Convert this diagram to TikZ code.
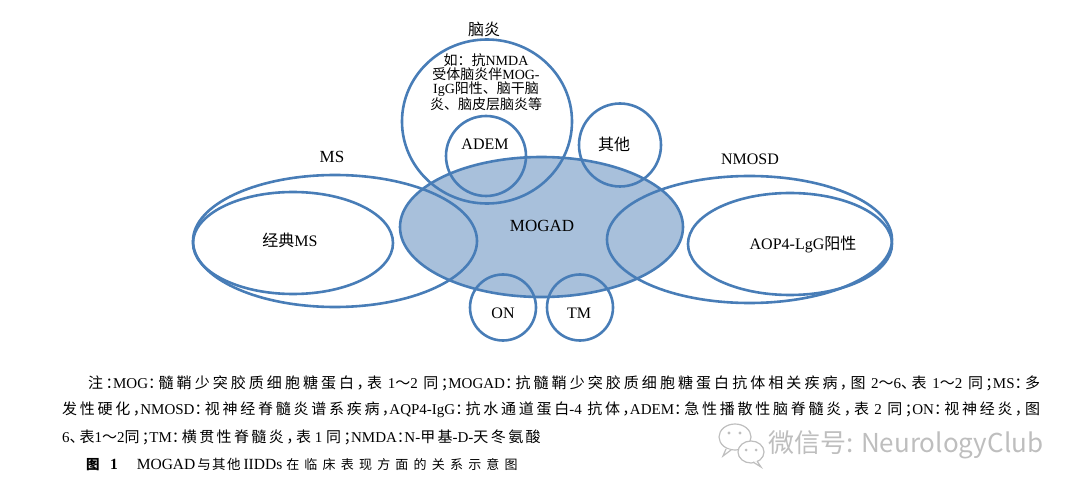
\documentclass[tikz,border=0pt]{standalone}
\usepackage{fontspec}
\setmainfont{Liberation Serif}
\newfontfamily\zh{Noto Sans CJK SC}
\newfontfamily\capzh[LetterSpace=16,RawFeature=+halt]{Noto Sans CJK SC}
\newfontfamily\titA[LetterSpace=10]{Noto Sans CJK SC}
\newfontfamily\titB[LetterSpace=40]{Noto Sans CJK SC}
\newfontfamily\wmfont{Noto Sans CJK SC}
\usetikzlibrary{shapes.geometric}
\definecolor{bl}{RGB}{72,125,183}
\definecolor{blfill}{RGB}{168,192,219}
\definecolor{wm}{RGB}{190,190,190}
\newcommand\Z[1]{{\capzh #1}}
\tikzset{
  ring/.style={ellipse, draw=bl, line width=2.6pt, inner sep=0pt},
  lab/.style={inner sep=0pt, font=\fontsize{16}{18}\selectfont},
  capline/.style={anchor=west, inner sep=0pt, font=\fontsize{15}{18}\selectfont},
}
\begin{document}
\begin{tikzpicture}[x=1pt,y=-1pt]
\useasboundingbox (0,0) rectangle (1080,497);
% MOGAD fill first
\node[ellipse, fill=blfill, minimum width=283, minimum height=140, inner sep=0pt] (mogadfill) at (541.5,227) {};
% outlines
\node[ring, minimum width=170, minimum height=164] (enc) at (487,121.5) {};
\node[ring, minimum width=80, minimum height=80] (adem) at (486,156) {};
\node[ring, minimum width=82, minimum height=83] (other) at (620,145) {};
\node[ring, minimum width=284, minimum height=132] (ms) at (335,241) {};
\node[ring, minimum width=200, minimum height=102] (cms) at (293,243) {};
\node[ring, minimum width=285, minimum height=127] (nmosd) at (749.5,239.5) {};
\node[ring, minimum width=204, minimum height=102] (aqp) at (790,244) {};
\node[ring, minimum width=283, minimum height=140] (mogad) at (541.5,227) {};
\node[ring, minimum width=66, minimum height=66] (on) at (503,307.5) {};
\node[ring, minimum width=66, minimum height=66] (tm) at (580,307.5) {};
% labels
\node[lab] (encl) at (484,29) {\zh 脑炎};
\node[inner sep=0pt, align=center, font=\fontsize{14}{14.4}\selectfont] (enct) at (486,82.2)
  {{\zh 如：抗}NMDA\\{\zh 受体脑炎伴}MOG-\\IgG{\zh 阳性、脑干脑}\\{\zh 炎、脑皮层脑炎等}};
\node[lab] (ademl) at (485,144) {ADEM};
\node[lab] (otherl) at (614,144) {\zh 其他};
\node[lab, font=\fontsize{17}{19}\selectfont] (msl) at (332,157) {MS};
\node[lab] (cmsl) at (290,240) {{\zh 经典}MS};
\node[lab] (nmosdl) at (750,159) {NMOSD};
\node[lab] (aqpl) at (803,245) {AOP4-LgG{\zh 阳性}};
\node[lab, font=\fontsize{17}{19}\selectfont] (mogadl) at (542,226) {MOGAD};
\node[lab] (onl) at (503,313) {ON};
\node[lab] (tml) at (579,313) {TM};
% caption
\node[capline, text width=952pt, align=justify] (cap1) at (88,383)
 {\XeTeXlinebreaklocale "zh"\XeTeXlinebreakskip=0pt plus 3pt\parfillskip=0pt
 \Z{注：}MOG\Z{：髓鞘少突胶质细胞糖蛋白，表} 1\Z{～}2 \Z{同；}MOGAD\Z{：抗髓鞘少突胶质细胞糖蛋白抗体相关疾病，图} 2\Z{～}6\Z{、表} 1\Z{～}2 \Z{同；}MS\Z{：多}\par};
\node[capline, text width=978pt, align=justify] (cap2) at (62,410)
 {\XeTeXlinebreaklocale "zh"\XeTeXlinebreakskip=0pt plus 3pt\parfillskip=0pt
 \Z{发性硬化，}NMOSD\Z{：视神经脊髓炎谱系疾病，}AQP4-IgG\Z{：抗水通道蛋白}-4 \Z{抗体，}ADEM\Z{：急性播散性脑脊髓炎，表} 2 \Z{同；}ON\Z{：视神经炎，图}\par};
\node[capline] (cap3) at (62,437)
 {6\Z{、表}1\Z{～}2\Z{同；}TM\Z{：横贯性脊髓炎，表} 1 \Z{同；}NMDA\Z{：}N-\Z{甲基}-D-\Z{天冬氨酸}};
\node[capline, font=\fontsize{15.5}{18}\selectfont] (title) at (86,464)
 {{\titA\fontsize{13.5}{16}\selectfont\bfseries 图}\hspace{9pt}\textbf{1}\hspace{19pt}MOGAD\hspace{2pt}{\titA\fontsize{13.5}{16}\selectfont 与其他}\hspace{3pt}IIDDs\hspace{4pt}{\titB\fontsize{13}{16}\selectfont 在临床表现方面的关系示意图}};
% watermark
\begin{scope}[draw=wm, line width=1.2pt]
  \draw[fill=white] (735,437) ellipse [x radius=16, y radius=13];
  \draw[fill=white] (726,449) -- (723,456) -- (731,450);
  \fill[wm] (729,433) circle (1.6) (740,433) circle (1.6);
  \draw[fill=white] (751,452) ellipse [x radius=13, y radius=11];
  \draw[fill=white] (757,461) -- (761,467) -- (753,462);
  \fill[wm] (746,450) circle (1.5) (756,450) circle (1.5);
\end{scope}
\node[anchor=west, inner sep=0pt, text=wm, font=\wmfont\fontsize{26}{28}\selectfont] (wmark) at (768,445) {微信号: NeurologyClub};
\end{tikzpicture}
\end{document}
